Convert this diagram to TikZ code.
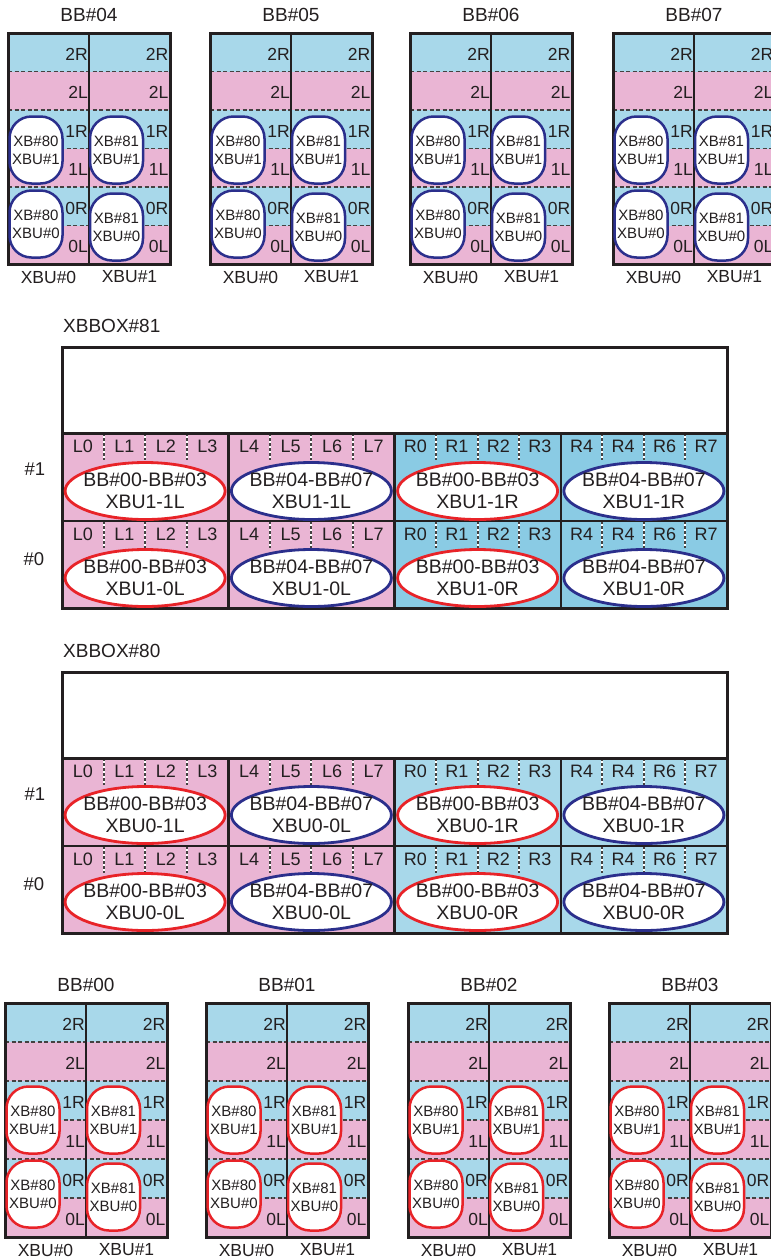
\documentclass[tikz,border=0pt]{standalone}
\usepackage{fontspec}
\setmainfont{Liberation Sans}
\usetikzlibrary{shapes.geometric}
\definecolor{bandpink}{RGB}{234,181,212}
\definecolor{bandblue}{RGB}{168,216,234}
\definecolor{bandblueb}{RGB}{138,203,228}
\definecolor{navyc}{RGB}{43,47,140}
\definecolor{redc}{RGB}{232,35,40}
\definecolor{ink}{RGB}{35,31,32}
\tikzset{
 boxline/.style={draw=ink, line width=3pt},
 divline/.style={draw=ink, line width=2.5pt},
 rowdash/.style={draw=ink!85, line width=1.5pt, dash pattern=on 4pt off 2.5pt},
 sepdash/.style={draw=ink!85, line width=2pt, dash pattern=on 2.5pt off 2.5pt},
 blob/.style={draw, fill=white, line width=2.5pt, rounded corners=22pt, minimum width=53pt, minimum height=67pt, inner sep=0pt, align=center, font=\fontsize{15}{18}\selectfont, text=ink},
 bandlbl/.style={anchor=east, inner sep=0pt, font=\fontsize{17.5}{19}\selectfont, text=ink},
 titlelbl/.style={inner sep=0pt, font=\fontsize{19}{22}\selectfont, text=ink},
 xbulbl/.style={inner sep=0pt, font=\fontsize{17.5}{20}\selectfont, text=ink},
 slotlbl/.style={inner sep=0pt, font=\fontsize{18}{20}\selectfont, text=ink},
 rowlbl/.style={inner sep=0pt, font=\fontsize{18.5}{20}\selectfont, text=ink},
 ovaltext/.style={inner sep=0pt, align=center, font=\fontsize{19.5}{21.5}\selectfont, text=ink},
}
% #1 x0, #2 y0, #3 row height, #4 blob colour, #5 title, #6 name prefix
\newcommand{\bbblock}[6]{%
\begin{scope}[shift={(#1,#2)}]
 \foreach \ii/\cc in {0/bandblue,1/bandpink,2/bandblue,3/bandpink,4/bandblue,5/bandpink}
   \fill[\cc] (0,{\ii*#3}) rectangle (162,{(\ii+1)*#3});
 \foreach \ii in {1,...,5} \draw[rowdash] (0,{\ii*#3}) -- (162,{\ii*#3});
 \foreach \ii/\tt in {0/2R,1/2L,2/1R,3/1L,4/0R,5/0L}{
   \node[bandlbl] (#6a\ii) at (80,{(\ii+0.5)*#3+2}) {\tt};
   \node[bandlbl] (#6b\ii) at (160.5,{(\ii+0.5)*#3+2}) {\tt};}
 \draw[divline] (81,0) -- (81,{6*#3});
 \draw[boxline] (0,0) rectangle (162,{6*#3});
 \node[blob, draw=#4] (#6u0) at (28,117) {XB\#80\\XBU\#1};
 \node[blob, draw=#4] (#6l0) at (28,191) {XB\#80\\XBU\#0};
 \node[blob, draw=#4] (#6u1) at (108.5,117) {XB\#81\\XBU\#1};
 \node[blob, draw=#4] (#6l1) at (108.5,194) {XB\#81\\XBU\#0};
 \node[titlelbl] (#6t) at (81,-18) {#5};
 \node[xbulbl] (#6x0) at (40.5,{6*#3+13}) {XBU\#0};
 \node[xbulbl] (#6x1) at (121.5,{6*#3+13}) {XBU\#1};
\end{scope}}
% #1 y0, #2 title, #3 blue colour, #4 name prefix
\newcommand{\xbbox}[4]{%
\begin{scope}[shift={(62,#1)}]
 \fill[white] (0,0) rectangle (665,86);
 \fill[bandpink] (0,86) rectangle (332.5,261);
 \fill[#3] (332.5,86) rectangle (665,261);
 \foreach \ry in {86,174} \foreach \cx in {0,166.25,332.5,498.75} \foreach \qq in {1,2,3} {
   \draw[white, line width=2pt] ({\cx+\qq*41.5625},\ry) -- ++(0,27);
   \draw[sepdash] ({\cx+\qq*41.5625},\ry) -- ++(0,27);}
 \draw[divline] (0,174) -- (665,174);
 \foreach \cx in {166.25,332.5,498.75} \draw[divline] (\cx,86) -- (\cx,261);
 \draw[boxline] (0,86) -- (665,86);
 \draw[boxline] (0,0) rectangle (665,261);
 \foreach \ry/\ss in {86/a,174/b}
   \foreach \kk/\tt in {0/L0,1/L1,2/L2,3/L3,4/L4,5/L5,6/L6,7/L7,8/R0,9/R1,10/R2,11/R3,12/R4,13/R4,14/R6,15/R7}
     \node[slotlbl] (#4\ss\kk) at ({20.78+\kk*41.5625},{\ry+13}) {\tt};
 \node[titlelbl, anchor=west] (#4t) at (1,-21) {#2};
 \node[rowlbl] (#4r1) at (-27,122) {\#1};
 \node[rowlbl] (#4r0) at (-28,212) {\#0};
\end{scope}}
% #1 name, #2 x, #3 y, #4 colour, #5 text
\newcommand{\xoval}[5]{%
 \draw[draw=#4, fill=white, line width=2.8pt] (#2,#3) ellipse [x radius=80, y radius=28.5];
 \node[ovaltext] (#1) at (#2,#3) {#5};}
\begin{document}
\begin{tikzpicture}[x=1pt,y=-1pt]
\useasboundingbox (0,0) rectangle (771,1259);
\clip (0,0) rectangle (771,1259);
\fill[white] (0,0) rectangle (771,1259);
% top BB blocks
\bbblock{8}{33}{38.5}{navyc}{BB\#04}{bbfour}
\bbblock{210}{33}{38.5}{navyc}{BB\#05}{bbfive}
\bbblock{410}{33}{38.5}{navyc}{BB\#06}{bbsix}
\bbblock{613}{33}{38.5}{navyc}{BB\#07}{bbseven}
% XBBOX#81
\xbbox{347}{XBBOX\#81}{bandblueb}{xbe}
\xoval{eA}{145.1}{491}{redc}{BB\#00-BB\#03\\XBU1-1L}
\xoval{eB}{311.4}{491}{navyc}{BB\#04-BB\#07\\XBU1-1L}
\xoval{eC}{477.6}{491}{redc}{BB\#00-BB\#03\\XBU1-1R}
\xoval{eD}{643.9}{491}{navyc}{BB\#04-BB\#07\\XBU1-1R}
\xoval{eE}{145.1}{578}{redc}{BB\#00-BB\#03\\XBU1-0L}
\xoval{eF}{311.4}{578}{navyc}{BB\#04-BB\#07\\XBU1-0L}
\xoval{eG}{477.6}{578}{redc}{BB\#00-BB\#03\\XBU1-0R}
\xoval{eH}{643.9}{578}{navyc}{BB\#04-BB\#07\\XBU1-0R}
% XBBOX#80
\xbbox{672}{XBBOX\#80}{bandblue}{xbz}
\xoval{fA}{145.1}{815}{redc}{BB\#00-BB\#03\\XBU0-1L}
\xoval{fB}{311.4}{815}{navyc}{BB\#04-BB\#07\\XBU0-0L}
\xoval{fC}{477.6}{815}{redc}{BB\#00-BB\#03\\XBU0-1R}
\xoval{fD}{643.9}{815}{navyc}{BB\#04-BB\#07\\XBU0-1R}
\xoval{fE}{145.1}{902}{redc}{BB\#00-BB\#03\\XBU0-0L}
\xoval{fF}{311.4}{902}{navyc}{BB\#04-BB\#07\\XBU0-0L}
\xoval{fG}{477.6}{902}{redc}{BB\#00-BB\#03\\XBU0-0R}
\xoval{fH}{643.9}{902}{navyc}{BB\#04-BB\#07\\XBU0-0R}
% bottom BB blocks
\bbblock{5}{1003}{39}{redc}{BB\#00}{bbzero}
\bbblock{206}{1003}{39}{redc}{BB\#01}{bbone}
\bbblock{408}{1003}{39}{redc}{BB\#02}{bbtwo}
\bbblock{609}{1003}{39}{redc}{BB\#03}{bbthree}
\end{tikzpicture}
\end{document}
